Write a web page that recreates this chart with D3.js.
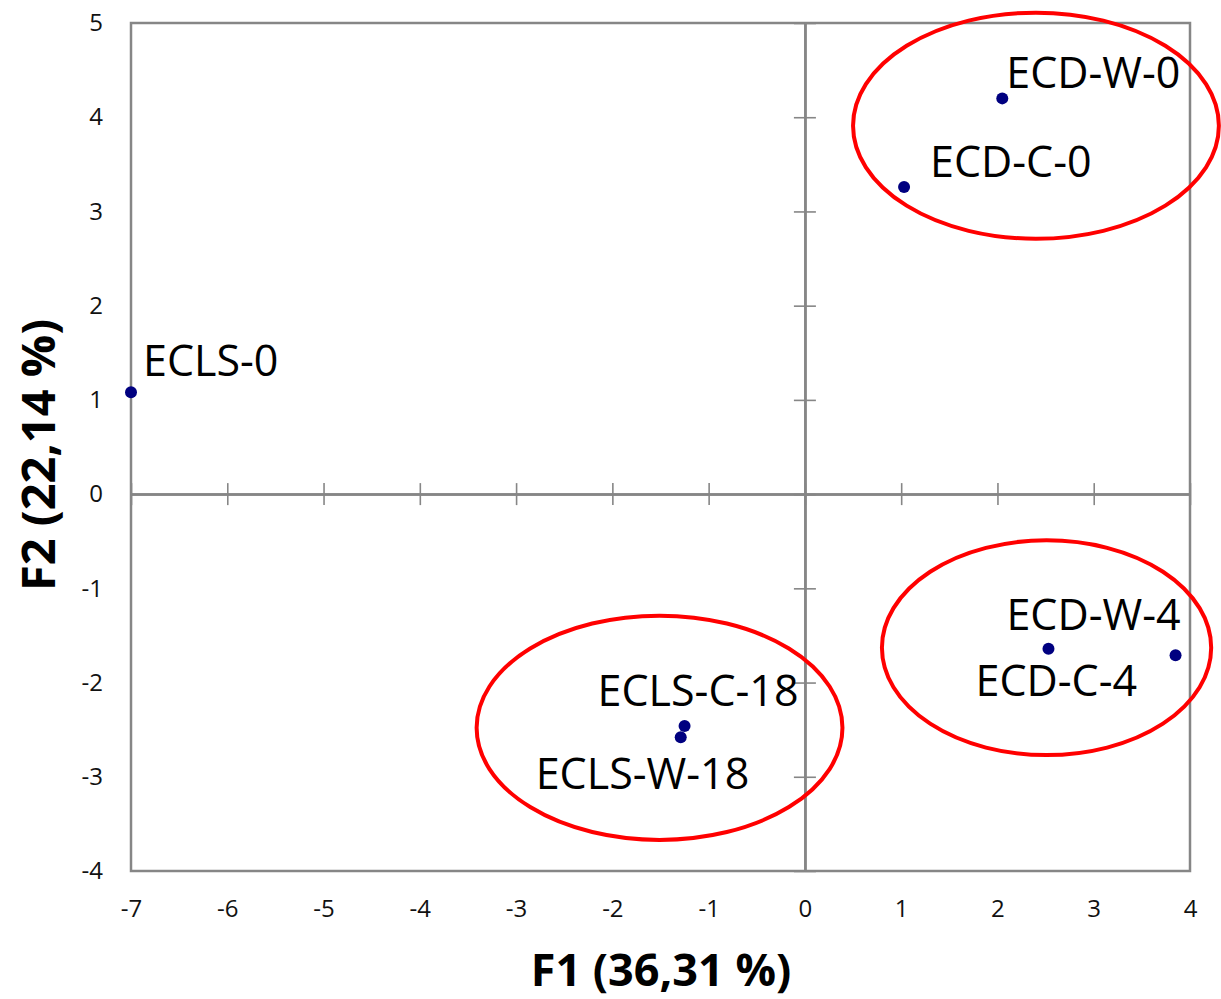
<!DOCTYPE html>
<html>
<head>
<meta charset="utf-8">
<script src="https://cdn.jsdelivr.net/npm/d3@7"></script>
<style>
  body { margin: 0; background: #fff; }
  svg { display: block; }
</style>
</head>
<body>
<svg id="svg" width="1221" height="999"></svg>
<script>
// observations (F1, F2 scores)
const sampleNames = ["ECLS-0", "ECD-W-0", "ECD-C-0", "ECLS-C-18", "ECLS-W-18", "ECD-W-4", "ECD-C-4"];
const f1Values = [-7.0, 2.05, 1.03, -1.25, -1.29, 2.53, 3.85];
const f2Values = [1.08, 4.20, 3.26, -2.46, -2.58, -1.64, -1.71];

const xTicks = [-7, -6, -5, -4, -3, -2, -1, 0, 1, 2, 3, 4];
const yTicks = [-4, -3, -2, -1, 0, 1, 2, 3, 4, 5];

// group ellipses drawn by hand on the plot (data units)
const groupCx = [2.40, 2.51, -1.51];
const groupCy = [3.91, -1.63, -2.48];
const groupRx = [1.90, 1.71, 1.90];
const groupRy = [1.20, 1.14, 1.19];

const xTitle = "F1 (36,31 %)";
const yTitle = "F2 (22,14 %)";

// label placement, pixels from the point
const labelNudge = {
    "ECLS-0": [12, -16],
    "ECD-W-0": [4, -10],
    "ECD-C-0": [26, -10],
    "ECLS-C-18": [-87, -20],
    "ECLS-W-18": [-145, 52],
    "ECD-W-4": [-42, -19],
    "ECD-C-4": [-200, 41]
};

const plotLeft = 131, plotRight = 1190, plotTop = 23, plotBottom = 871;
const axisColor = "#868686";
const labelFont = "'Open Sans', 'DejaVu Sans', sans-serif";

const x = d3.scaleLinear([-7, 4], [plotLeft, plotRight]);
const y = d3.scaleLinear([-4, 5], [plotBottom, plotTop]);

const svg = d3.select("#svg");

// plot frame
svg.append("rect")
    .attr("x", plotLeft)
    .attr("y", plotTop)
    .attr("width", plotRight - plotLeft)
    .attr("height", plotBottom - plotTop)
    .attr("fill", "none")
    .attr("stroke", axisColor)
    .attr("stroke-width", 2.5);

// crossing axes through zero, ticks on both sides
function styleAxis(g, strokeW) {
    g.selectAll(".domain").attr("stroke", axisColor).attr("stroke-width", strokeW);
    g.selectAll(".tick line").attr("stroke", axisColor).attr("stroke-width", 1.6);
    g.selectAll(".tick text").remove();
}

svg.append("g")
    .attr("transform", `translate(0, ${y(0)})`)
    .call(d3.axisBottom(x).tickValues(xTicks).tickSizeInner(11).tickSizeOuter(0))
    .call(g => styleAxis(g, 2.5));
svg.append("g")
    .attr("transform", `translate(0, ${y(0)})`)
    .call(d3.axisTop(x).tickValues(xTicks).tickSizeInner(11).tickSizeOuter(0))
    .call(g => styleAxis(g, 2.5));
svg.append("g")
    .attr("transform", `translate(${x(0)}, 0)`)
    .call(d3.axisLeft(y).tickValues(yTicks).tickSizeInner(11).tickSizeOuter(0))
    .call(g => styleAxis(g, 2.5));
svg.append("g")
    .attr("transform", `translate(${x(0)}, 0)`)
    .call(d3.axisRight(y).tickValues(yTicks).tickSizeInner(11).tickSizeOuter(0))
    .call(g => styleAxis(g, 2.5));

// tick labels along the frame (plain hyphen for negatives)
const plainNum = d => String(d);

const xLab = svg.append("g")
    .attr("transform", `translate(0, ${plotBottom})`)
    .call(d3.axisBottom(x).tickValues(xTicks).tickSize(0).tickPadding(29).tickFormat(plainNum));
xLab.select(".domain").remove();
xLab.selectAll("text")
    .attr("font-family", labelFont)
    .attr("font-size", 24)
    .attr("fill", "#111");

const yLab = svg.append("g")
    .attr("transform", `translate(${plotLeft}, 0)`)
    .call(d3.axisLeft(y).tickValues(yTicks).tickSize(0).tickPadding(28).tickFormat(plainNum));
yLab.select(".domain").remove();
yLab.selectAll("text")
    .attr("font-family", labelFont)
    .attr("font-size", 24)
    .attr("fill", "#111");

// axis titles
svg.append("text")
    .attr("x", 661)
    .attr("y", 986)
    .attr("text-anchor", "middle")
    .attr("font-family", labelFont)
    .attr("font-weight", 700)
    .attr("font-size", 45)
    .text(xTitle);

svg.append("text")
    .attr("transform", "translate(55, 455) rotate(-90)")
    .attr("text-anchor", "middle")
    .attr("font-family", labelFont)
    .attr("font-weight", 700)
    .attr("font-size", 47)
    .text(yTitle);

// observations
const points = sampleNames.map((name, i) => ({name, f1: f1Values[i], f2: f2Values[i]}));

svg.append("g")
    .selectAll("circle")
    .data(points)
    .join("circle")
    .attr("cx", d => x(d.f1))
    .attr("cy", d => y(d.f2))
    .attr("r", 6)
    .attr("fill", "#000080");

svg.append("g")
    .selectAll("text")
    .data(points)
    .join("text")
    .attr("x", d => x(d.f1) + labelNudge[d.name][0])
    .attr("y", d => y(d.f2) + labelNudge[d.name][1])
    .attr("font-family", labelFont)
    .attr("font-size", 43)
    .attr("fill", "#000")
    .text(d => d.name);

// group ellipses
const groups = groupCx.map((cx, i) => ({cx, cy: groupCy[i], rx: groupRx[i], ry: groupRy[i]}));

svg.append("g")
    .selectAll("ellipse")
    .data(groups)
    .join("ellipse")
    .attr("cx", d => x(d.cx))
    .attr("cy", d => y(d.cy))
    .attr("rx", d => x(d.rx) - x(0))
    .attr("ry", d => y(0) - y(d.ry))
    .attr("fill", "none")
    .attr("stroke", "#ff0000")
    .attr("stroke-width", 4);
</script>
</body>
</html>
